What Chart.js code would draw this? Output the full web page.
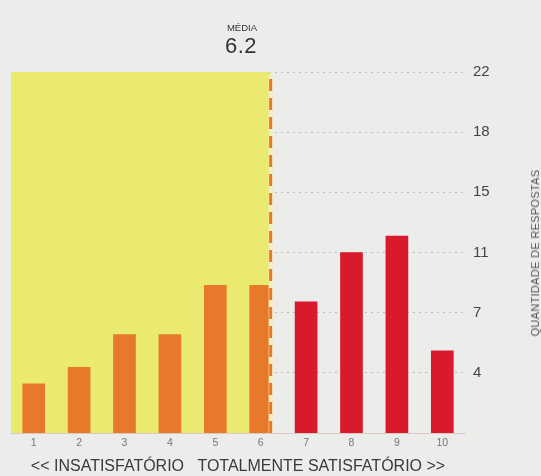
<!DOCTYPE html>
<html>
<head>
<meta charset="utf-8">
<script src="https://cdn.jsdelivr.net/npm/chart.js@4.4.1/dist/chart.umd.min.js"></script>
<style>
  html,body{margin:0;padding:0;background:#ECECEA;}
  #wrap{position:relative;width:541px;height:476px;overflow:hidden;font-family:"Liberation Sans",Arial,sans-serif;}
  canvas{position:absolute;left:0;top:0;}
  #mediaLbl{position:absolute;right:284px;top:22px;font-size:9.5px;color:#333;}
  #mediaVal{position:absolute;right:284px;top:33px;font-size:22px;color:#333;letter-spacing:0.5px;}
  #ytitle{position:absolute;left:535px;top:253px;transform:translate(-50%,-50%) rotate(-90deg);white-space:nowrap;font-size:11px;color:#555;letter-spacing:0.3px;}
</style>
</head>
<body>
<div id="wrap">
  <canvas id="c" width="541" height="476"></canvas>
  <div id="mediaLbl">MÉDIA</div>
  <div id="mediaVal"></div>
  <div id="ytitle">QUANTIDADE DE RESPOSTAS</div>
</div>
<script>
// ---- data ----
const categories = [1, 2, 3, 4, 5, 6, 7, 8, 9, 10];
const respostas = [3, 4, 6, 6, 9, 9, 8, 11, 12, 5];
const yMax = 22;
const xTitle = "<< INSATISFATÓRIO   TOTALMENTE SATISFATÓRIO >>";
const mediaLabel = "MÉDIA";

// weighted mean of the scores
const total = respostas.reduce((a, b) => a + b, 0);
const media = categories.reduce((s, c, i) => s + c * respostas[i], 0) / total;
document.getElementById('mediaVal').textContent = media.toFixed(1);

const orange = '#E67A2A';
const red = '#D81A2C';
const yellow = 'rgba(233,232,106,0.96)';

const barColors = categories.map(c => c <= Math.round(media) ? orange : red);

new Chart(document.getElementById('c'), {
  type: 'bar',
  data: {
    datasets: [
      {
        type: 'bar',
        data: categories.map((c, i) => ({x: c, y: respostas[i]})),
        backgroundColor: barColors,
        barThickness: 22,
        order: 2
      },
      {
        type: 'line',
        data: [{x: categories[0] - 0.5, y: yMax}, {x: media, y: yMax}],
        borderWidth: 0,
        borderColor: 'rgba(0,0,0,0)',
        backgroundColor: yellow,
        fill: 'origin',
        pointRadius: 0,
        order: 5
      },
      {
        type: 'line',
        data: [{x: media, y: 0}, {x: media, y: yMax - 0.2}],
        borderWidth: 4,
        borderColor: '#F2EFC2',
        pointRadius: 0,
        order: 1
      },
      {
        type: 'line',
        data: [{x: media, y: 0}, {x: media, y: yMax - 0.2}],
        borderWidth: 3,
        borderColor: orange,
        borderDash: [12, 7],
        pointRadius: 0,
        order: 0
      }
    ]
  },
  options: {
    responsive: false,
    animation: false,
    events: [],
    layout: {padding: {left: 11, top: 72, right: 0, bottom: 0}},
    plugins: {legend: {display: false}, tooltip: {enabled: false}},
    scales: {
      x: {
        type: 'linear',
        offset: false,
        min: categories[0] - 0.5,
        max: categories[categories.length - 1] + 0.5,
        afterBuildTicks: (s) => { s.ticks = categories.map(v => ({value: v})); },
        ticks: {color: '#777', font: {size: 10.5, family: 'Liberation Sans'}, padding: 4, maxRotation: 0, autoSkip: false},
        grid: {display: false, drawTicks: false},
        border: {display: true, color: '#D9C9C4', width: 1},
        title: {display: true, text: xTitle, color: '#3a3a3a', font: {size: 16, family: 'Liberation Sans'}, padding: {top: 4, bottom: 0}},
        afterFit: (s) => { s.height = 43; }
      },
      y: {
        position: 'right',
        min: 0,
        max: yMax,
        afterBuildTicks: (s) => { const t = []; for (let k = 1; k <= 6; k++) t.push({value: yMax * k / 6}); s.ticks = t; },
        ticks: {color: '#444', font: {size: 15, family: 'Liberation Sans'}, padding: 8, callback: v => Math.round(v)},
        grid: {color: '#BDBDBD', lineWidth: 1, drawTicks: false},
        border: {display: false, dash: [2, 4]},
        afterFit: (s) => { s.width = 76; }
      }
    }
  }
});
</script>
</body>
</html>
